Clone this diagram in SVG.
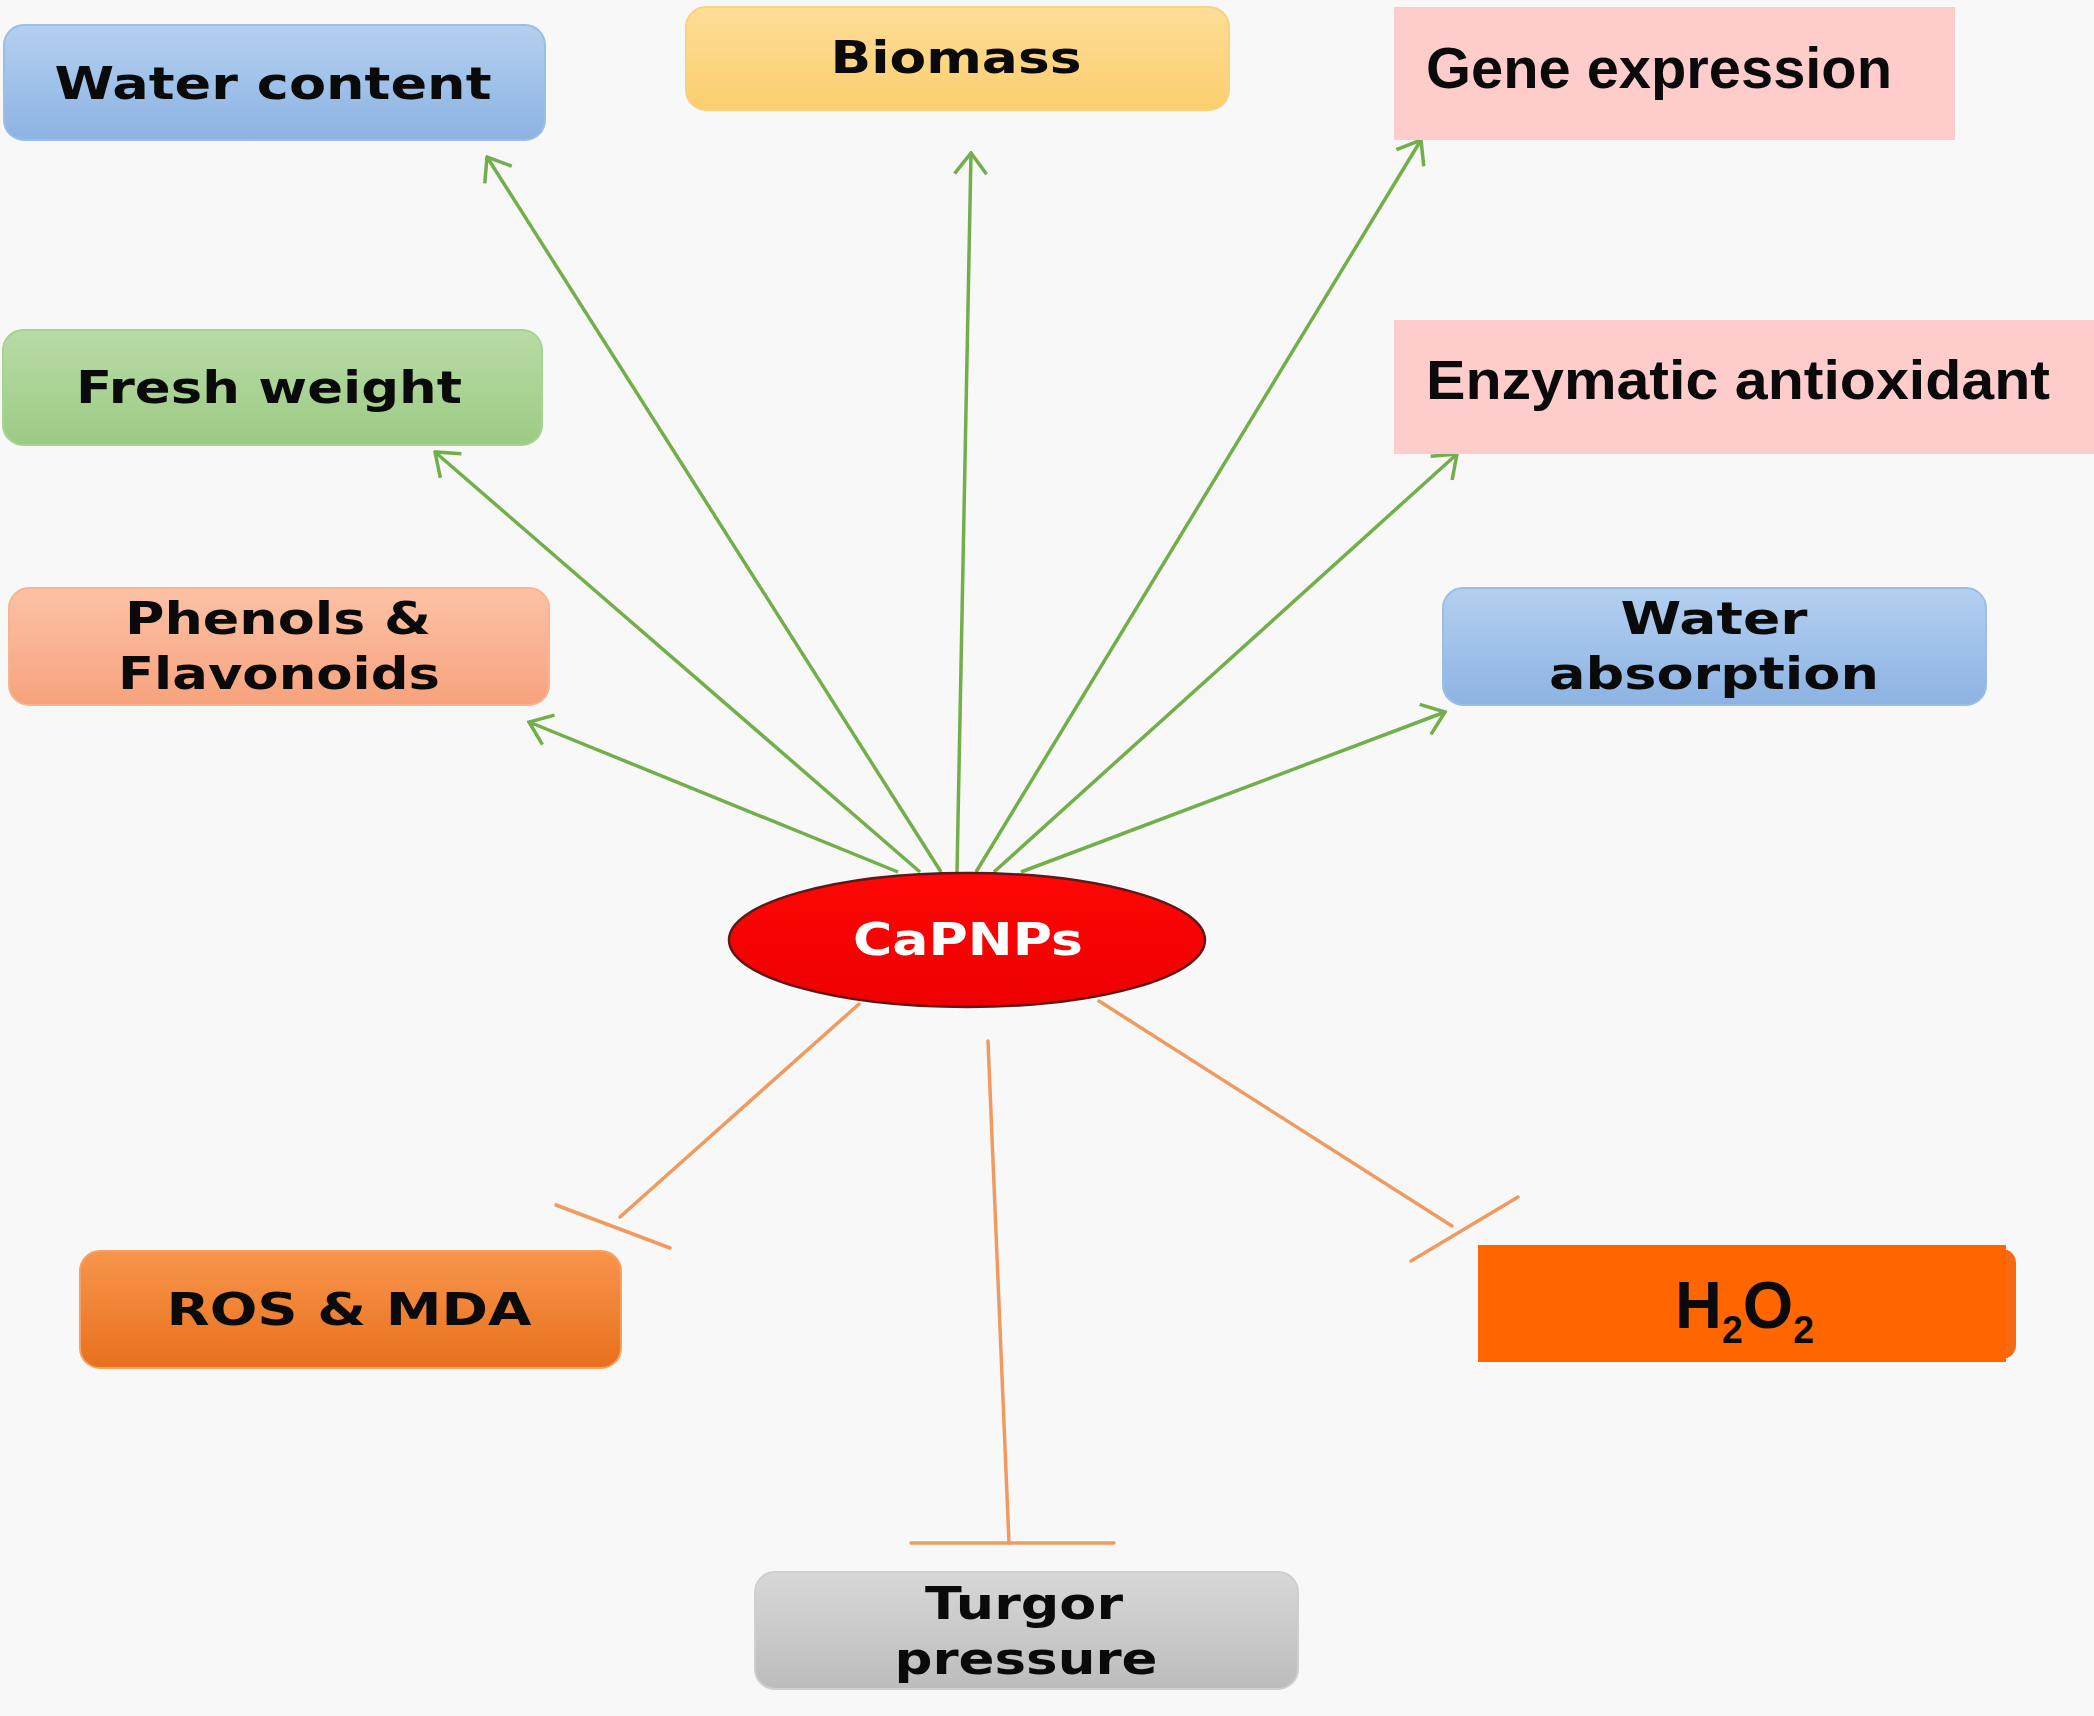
<svg xmlns="http://www.w3.org/2000/svg" width="2094" height="1716" viewBox="0 0 2094 1716">
<defs>
<style>
.lbl{font-family:"DejaVu Sans",Verdana,sans-serif;font-weight:bold;font-size:44px;fill:#0a0a0a;text-anchor:middle}
.cal{font-family:"Liberation Sans",Arial,sans-serif;font-weight:bold;fill:#0a0a0a}
.act{stroke:#72ae4a;stroke-width:3.5;fill:none;marker-end:url(#arr)}
.inh{stroke:#f09a60;stroke-width:3.5;fill:none;stroke-linecap:round}
</style>
<linearGradient id="gBlue" x1="0" y1="0" x2="0" y2="1"><stop offset="0" stop-color="#b4d0f0"/><stop offset="1" stop-color="#8cb3e3"/></linearGradient>
<linearGradient id="gYellow" x1="0" y1="0" x2="0" y2="1"><stop offset="0" stop-color="#ffdd98"/><stop offset="1" stop-color="#fbcf6e"/></linearGradient>
<linearGradient id="gGreen" x1="0" y1="0" x2="0" y2="1"><stop offset="0" stop-color="#b9dba6"/><stop offset="1" stop-color="#9ccb84"/></linearGradient>
<linearGradient id="gSalmon" x1="0" y1="0" x2="0" y2="1"><stop offset="0" stop-color="#fcc2a6"/><stop offset="1" stop-color="#f7a27d"/></linearGradient>
<linearGradient id="gOrange" x1="0" y1="0" x2="0" y2="1"><stop offset="0" stop-color="#f8954c"/><stop offset="1" stop-color="#e8701c"/></linearGradient>
<linearGradient id="gGray" x1="0" y1="0" x2="0" y2="1"><stop offset="0" stop-color="#d8d8d8"/><stop offset="1" stop-color="#bcbcbc"/></linearGradient>
<linearGradient id="gRed" x1="0" y1="0" x2="0" y2="1"><stop offset="0" stop-color="#ff0606"/><stop offset="1" stop-color="#ee0000"/></linearGradient>
<marker id="arr" viewBox="0 0 26 36" refX="24" refY="18" markerWidth="26" markerHeight="36" markerUnits="userSpaceOnUse" orient="auto"><path d="M3,2 L24,18 L3,34" fill="none" stroke="#72ae4a" stroke-width="3.5"/></marker>
</defs>
<rect x="0" y="0" width="2094" height="1716" fill="#f8f8f8"/>

<g id="connectors">
<path class="act" d="M898,872 L529,722"/>
<path class="act" d="M920,872 L435,452"/>
<path class="act" d="M941,872 L487,157"/>
<path class="act" d="M957,872 L971,153"/>
<path class="act" d="M976,872 L1421,140"/>
<path class="act" d="M994,872 L1457,454"/>
<path class="act" d="M1021,872 L1445,712"/>
<path class="inh" d="M859,1004 L620,1217"/>
<path class="inh" d="M556,1205 L670,1248"/>
<path class="inh" d="M988,1041 L1009,1543"/>
<path class="inh" d="M911,1543 L1114,1543"/>
<path class="inh" d="M1099,1001 L1452,1226"/>
<path class="inh" d="M1411,1261 L1518,1197"/>
</g>

<g id="water-content">
<rect x="4" y="25" width="541" height="115" rx="20" fill="url(#gBlue)" stroke="#9dbde6" stroke-width="2"/>
<text class="lbl" x="273" y="99" textLength="437" lengthAdjust="spacingAndGlyphs">Water content</text>
</g>
<g id="biomass">
<rect x="686" y="7" width="543" height="103" rx="20" fill="url(#gYellow)" stroke="#f8d27e" stroke-width="2"/>
<text class="lbl" x="956" y="73" textLength="251" lengthAdjust="spacingAndGlyphs">Biomass</text>
</g>
<g id="gene-expression">
<rect x="1394" y="7" width="561" height="133" fill="#ffcccc"/>
<text class="cal" x="1426" y="88" font-size="57" textLength="466" lengthAdjust="spacingAndGlyphs">Gene expression</text>
</g>
<g id="enzymatic-antioxidant">
<rect x="1394" y="320" width="700" height="134" fill="#ffcccc"/>
<text class="cal" x="1426" y="399" font-size="56" textLength="624" lengthAdjust="spacingAndGlyphs">Enzymatic antioxidant</text>
</g>
<g id="fresh-weight">
<rect x="3" y="330" width="539" height="115" rx="20" fill="url(#gGreen)" stroke="#a9d394" stroke-width="2"/>
<text class="lbl" x="269" y="403" textLength="386" lengthAdjust="spacingAndGlyphs">Fresh weight</text>
</g>
<g id="phenols-flavonoids">
<rect x="9" y="588" width="540" height="117" rx="20" fill="url(#gSalmon)" stroke="#f9b393" stroke-width="2"/>
<text class="lbl" x="278" y="634" font-size="42" textLength="306" lengthAdjust="spacingAndGlyphs">Phenols &amp;</text>
<text class="lbl" x="279" y="689" font-size="42" textLength="322" lengthAdjust="spacingAndGlyphs">Flavonoids</text>
</g>
<g id="water-absorption">
<rect x="1443" y="588" width="543" height="117" rx="20" fill="url(#gBlue)" stroke="#9dbde6" stroke-width="2"/>
<text class="lbl" x="1714" y="634" font-size="42" textLength="187" lengthAdjust="spacingAndGlyphs">Water</text>
<text class="lbl" x="1714" y="689" font-size="42" textLength="330" lengthAdjust="spacingAndGlyphs">absorption</text>
</g>
<g id="capnps">
<ellipse cx="967" cy="940" rx="238" ry="67" fill="url(#gRed)" stroke="#5e1818" stroke-width="2.5"/>
<text class="lbl" x="968" y="955" font-size="41" style="fill:#ffffff" textLength="230" lengthAdjust="spacingAndGlyphs">CaPNPs</text>
</g>
<g id="ros-mda">
<rect x="80" y="1251" width="541" height="117" rx="20" fill="url(#gOrange)" stroke="#f5a064" stroke-width="2"/>
<text class="lbl" x="349" y="1325" textLength="365" lengthAdjust="spacingAndGlyphs">ROS &amp; MDA</text>
</g>
<g id="turgor-pressure">
<rect x="755" y="1572" width="543" height="117" rx="20" fill="url(#gGray)" stroke="#cfcfcf" stroke-width="2"/>
<text class="lbl" x="1024" y="1619" textLength="198" lengthAdjust="spacingAndGlyphs">Turgor</text>
<text class="lbl" x="1026" y="1674" textLength="263" lengthAdjust="spacingAndGlyphs">pressure</text>
</g>
<g id="h2o2">
<rect x="1478" y="1249" width="538" height="110" rx="14" fill="#f86a10"/>
<rect x="1478" y="1245" width="528" height="117" fill="#ff6600"/>
<text class="cal" x="1675" y="1328" font-size="66" textLength="139" lengthAdjust="spacingAndGlyphs">H<tspan font-size="38" dy="15">2</tspan><tspan dy="-15">O</tspan><tspan font-size="38" dy="15">2</tspan></text>
</g>
</svg>
